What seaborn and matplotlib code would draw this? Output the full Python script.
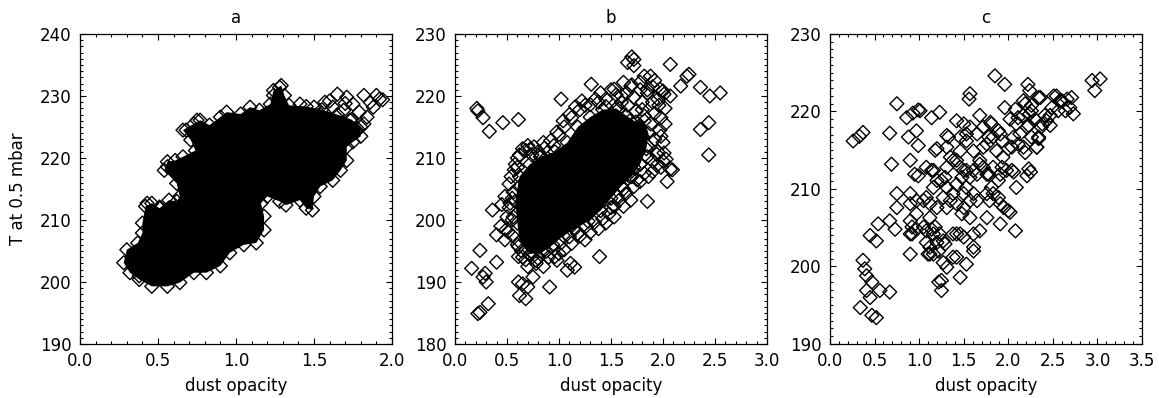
import numpy as np
import pandas as pd
import matplotlib
matplotlib.use("Agg")
import matplotlib.pyplot as plt
from matplotlib.ticker import MultipleLocator, FormatStrFormatter
import seaborn as sns

# ---------------- data ----------------
panel_titles = ["a", "b", "c"]
x_label = "dust opacity"
y_label = "T at 0.5 mbar"
x_limits = [(0.0, 2.0), (0.0, 3.0), (0.0, 3.5)]
y_limits = [(190, 240), (180, 230), (190, 230)]

# panel a: outline of the saturated (fully over-plotted) cloud, also plotted as points
a_edge = [(0.28, 203.1), (0.30, 205.2), (0.37, 206.3), (0.40, 207.9), (0.40, 209.5),
          (0.42, 212.2), (0.46, 212.7), (0.51, 211.9), (0.57, 213.2), (0.62, 213.0),
          (0.64, 213.8), (0.62, 215.9), (0.54, 218.0), (0.56, 219.4), (0.61, 219.6),
          (0.66, 220.2), (0.74, 221.2), (0.71, 222.9), (0.66, 224.5), (0.73, 225.5),
          (0.77, 226.1), (0.83, 225.3), (0.90, 226.6), (0.94, 227.4), (1.03, 227.1),
          (1.09, 228.2), (1.15, 227.7), (1.22, 228.7), (1.24, 230.9), (1.29, 231.7),
          (1.31, 230.1), (1.34, 228.5), (1.45, 228.3), (1.55, 227.8), (1.65, 227.0),
          (1.74, 226.2), (1.80, 225.0), (1.80, 223.5), (1.75, 222.6), (1.71, 221.8),
          (1.71, 219.6), (1.67, 218.0), (1.62, 216.4), (1.54, 215.4), (1.50, 213.8),
          (1.49, 211.6), (1.45, 211.9), (1.41, 213.2), (1.32, 212.4), (1.28, 213.0),
          (1.20, 213.8), (1.16, 212.7), (1.18, 210.6), (1.18, 208.4), (1.13, 206.3),
          (1.05, 206.0), (0.96, 204.7), (0.90, 202.6), (0.81, 201.5), (0.73, 201.5),
          (0.64, 199.9), (0.56, 199.3), (0.46, 199.3), (0.38, 200.4), (0.32, 201.5)]
a_extra = [(1.28, 231.4), (1.24, 230.1), (1.57, 229.0), (1.65, 230.3), (1.71, 229.8),
           (1.75, 228.7), (1.82, 230.1), (1.86, 229.0), (1.92, 229.5), (1.62, 228.2),
           (1.69, 227.7), (1.54, 227.1), (1.73, 226.1), (1.79, 227.4), (1.82, 225.5),
           (1.67, 225.5), (1.50, 228.2), (1.41, 228.7), (1.35, 227.1), (1.88, 228.2),
           (1.84, 226.6), (1.78, 224.7), (1.75, 223.9), (1.90, 230.1), (1.94, 229.4),
           (0.68, 224.5), (0.75, 226.1), (0.56, 218.6), (0.60, 218.0), (0.43, 212.7),
           (0.51, 212.1), (0.71, 213.0), (0.38, 201.0), (1.60, 229.2), (1.70, 228.8)]

# panel b: outline of the saturated core, and individual points
b_core = [(0.62, 196.5), (0.72, 194.5), (0.84, 194.8), (0.94, 196.0), (1.04, 197.5),
          (1.15, 198.5), (1.28, 199.8), (1.40, 201.5), (1.50, 203.5), (1.60, 205.5),
          (1.70, 207.0), (1.78, 209.0), (1.84, 211.5), (1.86, 214.0), (1.82, 216.0),
          (1.74, 215.8), (1.65, 216.8), (1.55, 218.0), (1.42, 217.8), (1.30, 216.6),
          (1.18, 215.0), (1.08, 212.5), (0.96, 211.0), (0.82, 210.2), (0.72, 209.0),
          (0.62, 207.0), (0.58, 203.0), (0.60, 199.5)]
b_points = [(0.21, 218.0), (0.22, 217.6), (0.27, 216.5), (0.33, 214.3), (0.46, 215.7),
            (0.61, 216.2), (1.02, 219.5), (1.31, 221.9), (2.07, 225.1), (2.25, 223.5),
            (2.23, 223.2), (2.36, 221.4), (2.45, 220.0), (2.55, 220.5), (2.36, 214.6),
            (2.44, 215.7), (2.44, 210.5), (1.72, 225.9), (1.66, 225.4), (1.72, 224.9),
            (1.70, 226.3), (1.82, 223.2), (1.88, 223.2), (1.53, 221.1), (1.62, 222.2),
            (1.69, 221.6), (1.78, 222.2), (1.97, 221.1), (2.01, 220.3), (2.07, 220.0),
            (2.17, 221.6), (1.92, 222.5), (1.85, 221.0),
            (0.24, 195.1), (0.16, 192.2), (0.29, 191.4), (0.30, 190.0), (0.27, 190.8),
            (0.40, 193.2), (0.24, 185.1), (0.22, 184.9), (0.32, 186.5), (0.40, 197.6),
            (0.36, 201.6), (0.49, 198.4), (0.61, 195.7), (0.61, 194.1), (0.61, 190.0),
            (0.62, 187.8), (0.68, 187.3), (0.65, 189.7), (0.70, 189.2), (0.75, 190.8),
            (0.78, 193.0), (0.91, 189.2), (1.08, 191.9), (1.11, 193.0), (1.15, 192.4),
            (1.39, 194.1), (1.00, 194.6), (0.96, 194.1), (0.81, 195.7),
            (0.57, 208.1), (0.72, 211.4), (0.83, 210.3), (0.62, 205.4), (0.53, 202.7),
            (0.56, 200.5), (0.51, 198.1),
            (1.53, 200.5), (1.62, 202.2), (1.69, 203.2), (1.85, 203.0), (2.04, 206.2),
            (2.09, 208.1), (2.01, 210.8),
            (1.45, 219.5), (1.50, 221.0), (1.55, 220.2), (1.60, 219.0), (1.65, 220.5),
            (1.70, 221.8), (1.72, 219.8), (1.78, 221.0), (1.80, 219.0), (1.85, 220.5),
            (1.90, 221.5), (1.95, 219.5), (2.00, 220.8), (2.02, 218.0), (1.98, 216.5),
            (1.92, 217.2), (1.88, 215.5), (1.82, 216.8), (1.78, 215.0), (1.72, 214.0),
            (1.68, 216.0), (1.65, 213.2), (1.70, 211.5), (1.75, 212.8), (1.80, 213.5),
            (1.85, 212.0), (1.92, 213.0), (1.97, 214.5), (2.00, 212.5), (1.95, 211.0),
            (1.90, 209.5), (1.85, 210.2), (1.78, 209.0), (1.72, 208.5), (1.66, 209.5),
            (1.68, 207.0), (1.75, 206.5), (1.82, 207.5), (1.90, 207.8), (1.98, 208.5),
            (2.03, 209.8), (2.07, 208.2), (1.62, 205.0), (1.58, 203.2), (1.53, 202.2),
            (1.48, 201.0), (1.45, 199.5), (1.38, 198.6), (1.30, 198.0), (1.25, 196.8),
            (1.20, 197.4), (1.12, 196.2), (1.05, 195.2), (1.58, 218.0), (1.48, 216.0),
            (0.45, 202.5), (0.50, 200.5), (0.55, 203.5), (0.52, 205.8), (0.58, 209.0),
            (0.62, 210.5), (0.68, 211.2), (0.74, 210.5), (0.80, 211.0), (0.85, 212.5),
            (0.95, 212.0), (1.00, 213.8), (1.05, 215.0), (1.12, 216.5), (1.20, 217.8),
            (1.25, 218.5), (1.35, 219.5), (1.40, 220.5), (0.55, 197.5), (0.60, 196.0),
            (0.65, 194.0), (0.70, 192.5), (0.78, 193.5), (0.85, 192.5), (0.90, 194.0),
            (0.98, 193.5), (0.44, 199.0), (0.48, 196.8),
            (0.60, 210.0), (0.65, 211.5), (0.70, 212.0), (0.76, 211.8), (0.86, 211.6),
            (0.92, 212.8), (0.98, 214.2), (1.04, 216.0), (1.10, 217.0), (1.16, 218.3),
            (1.22, 219.2), (1.30, 218.6), (1.38, 219.0), (1.45, 218.3),
            (0.64, 195.0), (0.68, 193.6), (0.74, 194.0), (0.80, 193.8), (0.88, 195.0),
            (0.95, 195.3), (1.02, 196.3), (1.10, 197.3), (1.18, 197.8), (1.26, 199.0),
            (1.34, 199.6), (1.42, 200.2), (1.50, 202.0), (1.56, 203.8), (1.64, 204.2),
            (1.72, 205.4), (1.78, 206.2), (1.86, 207.0), (1.94, 208.8), (2.00, 209.5),
            (1.94, 210.6), (1.98, 213.5), (2.02, 215.5), (1.96, 218.5), (1.90, 219.0),
            (1.80, 217.8), (1.74, 217.5), (1.66, 218.5), (1.60, 220.0),
            (0.55, 200.0), (0.52, 202.0), (0.56, 204.5), (0.54, 207.0), (0.60, 208.5),
            (0.48, 203.8)]

# panel c: individual points
c_points = [(0.26, 216.2), (0.33, 216.8), (0.37, 217.3), (0.67, 217.2), (0.75, 221.0),
            (0.86, 219.2), (0.93, 219.8), (0.99, 220.2), (1.01, 220.1), (1.14, 219.2),
            (1.23, 219.9), (0.88, 216.7), (0.97, 217.5), (0.99, 215.6), (1.18, 215.0),
            (1.20, 215.2), (1.33, 216.7), (1.42, 218.8), (1.50, 218.4), (1.57, 222.3),
            (1.56, 221.6), (0.69, 213.2), (0.90, 213.7), (0.95, 211.9), (0.99, 211.7),
            (1.14, 212.4), (1.20, 211.1), (1.29, 211.5), (1.16, 210.2), (0.75, 209.4),
            (0.75, 207.6), (0.90, 209.4), (0.97, 208.5), (0.90, 208.1), (1.08, 208.9),
            (1.12, 208.1), (1.20, 207.6), (1.31, 210.2), (1.38, 209.4), (1.35, 208.5),
            (1.42, 208.1), (1.50, 207.6), (1.48, 206.8), (1.57, 206.3), (0.54, 205.5),
            (0.67, 205.9), (0.73, 204.8), (0.45, 204.0), (0.52, 203.3), (0.90, 205.9),
            (0.92, 205.1), (0.92, 204.2), (0.97, 204.8), (1.12, 206.3), (1.05, 205.1),
            (1.14, 204.8), (1.23, 204.2), (1.20, 203.1), (1.27, 203.3), (1.22, 202.0),
            (1.08, 203.1), (1.12, 201.6), (1.42, 204.2), (1.50, 203.8), (1.61, 202.0),
            (0.90, 201.6), (1.10, 201.6), (1.27, 200.5), (1.31, 199.9), (1.42, 201.2),
            (1.53, 200.3), (1.46, 198.6), (1.22, 198.0), (1.25, 196.9), (0.37, 200.8),
            (0.39, 199.7), (0.41, 198.8), (0.47, 198.0), (0.41, 196.9), (0.45, 196.0),
            (0.56, 196.9), (0.67, 196.7), (0.34, 194.7), (0.47, 193.7), (0.52, 193.4),
            (1.42, 213.7), (1.50, 212.4), (1.57, 211.5), (1.48, 211.5), (1.53, 210.2),
            (1.61, 209.4), (1.65, 208.5), (1.57, 208.5), (1.50, 209.4), (1.42, 210.6),
            (1.65, 211.9), (1.72, 212.8), (1.68, 213.7), (1.61, 214.9), (1.72, 215.4),
            (1.53, 216.2), (1.65, 217.1), (1.72, 218.0), (1.57, 218.0), (1.85, 224.6),
            (1.96, 223.5), (2.22, 223.5), (2.24, 222.7), (2.94, 224.0), (3.03, 224.2),
            (2.97, 222.7), (2.34, 221.8), (2.54, 222.0), (2.60, 221.4), (2.71, 221.8),
            (2.64, 220.1), (2.73, 219.7), (2.49, 220.5), (2.41, 219.5), (1.96, 220.5),
            (2.08, 220.3), (2.11, 219.2), (2.19, 221.0), (2.26, 220.1), (2.30, 219.0),
            (2.23, 218.2), (2.38, 218.4), (2.47, 218.2), (1.81, 218.4), (1.89, 217.5),
            (1.78, 216.7), (1.93, 216.2), (2.04, 215.4), (2.11, 215.8), (2.19, 214.7),
            (2.32, 215.4), (2.26, 216.7), (2.34, 216.5), (2.25, 212.2), (2.21, 211.7),
            (2.04, 212.4), (2.09, 210.2), (1.93, 212.8), (1.89, 211.1), (1.81, 210.2),
            (1.89, 208.9), (1.95, 207.6), (2.02, 207.0), (1.91, 205.5), (2.08, 204.6),
            (1.78, 211.9), (1.79, 208.5), (1.68, 219.5), (1.80, 218.6), (1.83, 216.7),
            (1.76, 215.8), (1.87, 214.9), (1.94, 214.1), (1.68, 213.2), (1.76, 211.9),
            (1.83, 212.8), (1.91, 211.9), (1.98, 212.4), (2.06, 212.2), (1.76, 209.4),
            (1.83, 209.4), (1.91, 208.1), (2.00, 207.2), (1.76, 206.3), (1.68, 204.6),
            (1.61, 204.2), (1.61, 202.5), (1.38, 201.2), (1.25, 198.2), (1.38, 204.2),
            (1.46, 204.2), (1.31, 207.6), (1.27, 208.9), (1.05, 208.5), (0.97, 206.8),
            (0.90, 204.2), (1.08, 204.6), (1.16, 204.2), (1.12, 202.5), (1.18, 205.1),
            (1.29, 202.9), (1.16, 201.6), (1.08, 212.8), (1.16, 212.4), (1.25, 211.1),
            (1.31, 212.8), (1.35, 214.1), (1.31, 215.4), (1.46, 214.9), (1.46, 216.7),
            (1.31, 216.9), (1.53, 217.1), (1.38, 213.7), (1.46, 212.8), (1.53, 212.4),
            (1.61, 212.4), (2.21, 218.0), (2.13, 217.1), (2.06, 216.7), (2.17, 215.4),
            (2.00, 215.2), (1.91, 217.1), (2.23, 212.6), (2.02, 219.0), (2.09, 218.4),
            (2.17, 219.5), (2.24, 219.7), (2.17, 221.4), (2.26, 220.8), (2.36, 221.8),
            (2.51, 222.0), (2.58, 221.4), (2.66, 221.6), (2.69, 220.5), (2.56, 220.1),
            (2.47, 219.5), (2.43, 218.8), (2.37, 218.0), (2.34, 216.7), (2.32, 215.4)]

# ---------------- style ----------------
sns.set_theme(style="ticks")
plt.rcParams["font.family"] = ["DejaVu Sans"]
plt.rcParams["axes.linewidth"] = 0.9

fig = plt.figure(figsize=(11.59, 3.98), dpi=100)
W, H = 1159.0, 398.0
lefts = [80, 455, 830]
axes = [fig.add_axes([l / W, 54 / H, 312 / W, 310 / H]) for l in lefts]

def open_diamonds(ax, pts):
    df = pd.DataFrame(pts, columns=["x", "y"])
    sns.scatterplot(data=df, x="x", y="y", ax=ax, marker="D", s=50,
                    color="black", edgecolor="black", linewidth=1.0, zorder=3)
    ax.collections[-1].set_facecolor("none")

# panel a
ax = axes[0]
ax.fill([p[0] for p in a_edge], [p[1] for p in a_edge], color="black", lw=0, zorder=2)
open_diamonds(ax, a_edge + a_extra)

# panel b
ax = axes[1]
ax.fill([p[0] for p in b_core], [p[1] for p in b_core], color="black", lw=0, zorder=2)
open_diamonds(ax, b_core + b_points)

# panel c
open_diamonds(axes[2], c_points)

for i, ax in enumerate(axes):
    ax.set_xlim(*x_limits[i])
    ax.set_ylim(*y_limits[i])
    ax.xaxis.set_major_locator(MultipleLocator(0.5))
    ax.xaxis.set_minor_locator(MultipleLocator(0.1))
    ax.yaxis.set_major_locator(MultipleLocator(10))
    ax.yaxis.set_minor_locator(MultipleLocator(1))
    ax.xaxis.set_major_formatter(FormatStrFormatter("%.1f"))
    ax.yaxis.set_major_formatter(FormatStrFormatter("%d"))
    ax.tick_params(which="both", direction="in", top=True, right=True,
                   color="black", width=0.8, labelsize=12, labelcolor="black")
    ax.tick_params(which="major", length=4.5, pad=6)
    ax.tick_params(which="minor", length=2.3)
    for sp in ax.spines.values():
        sp.set_color("black")
        sp.set_visible(True)
    ax.set_title(panel_titles[i], fontsize=12, pad=8, color="black")
    ax.set_xlabel(x_label, fontsize=12, labelpad=5, color="black")
    ax.set_ylabel(y_label if i == 0 else "", fontsize=12, labelpad=9, color="black")

fig.savefig("out.png", dpi=100, facecolor="white")
